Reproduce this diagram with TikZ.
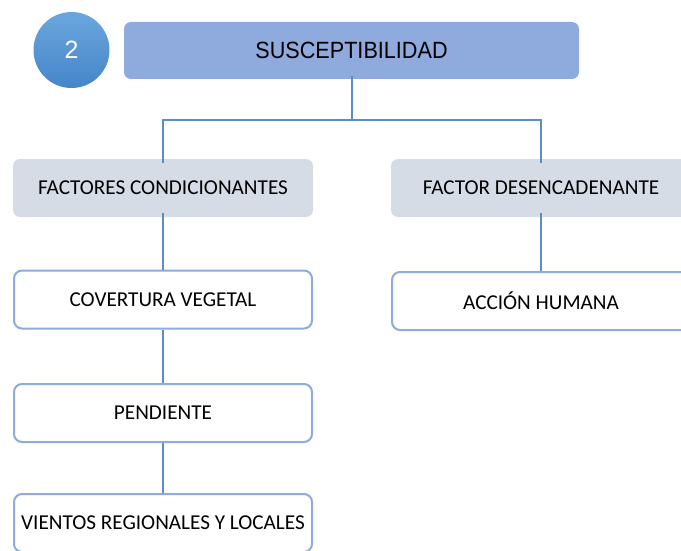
\documentclass[tikz,border=0pt]{standalone}
\usepackage{fontspec}
\setmainfont{Carlito}
\newfontfamily\titlefont[FakeStretch=0.92]{Liberation Sans}
\newfontfamily\numfont{Liberation Sans}
\definecolor{titlefill}{HTML}{8FAADC}
\definecolor{catfill}{HTML}{D6DCE5}
\definecolor{boxline}{HTML}{8FAADC}
\definecolor{conn}{HTML}{5B8DC7}
\definecolor{circtop}{HTML}{6BA6DE}
\definecolor{circbot}{HTML}{4585C8}
\tikzset{
  title/.style={fill=titlefill, rounded corners=7pt, minimum width=455pt, minimum height=57pt,
    font=\titlefont\fontsize{23.5}{26}\selectfont, text=black, inner sep=0pt},
  catbox/.style={fill=catfill, rounded corners=7pt, minimum width=300pt, minimum height=58pt,
    font=\fontsize{21.2}{24}\selectfont, inner sep=0pt},
  itembox/.style={draw=boxline, line width=2pt, fill=white, rounded corners=8pt, minimum width=298pt,
    minimum height=58pt, font=\fontsize{21.2}{24}\selectfont, inner sep=0pt},
  conn/.style={draw=conn, line width=2pt},
}
\begin{document}
\begin{tikzpicture}[x=1pt,y=-1pt]
\useasboundingbox (0,0) rectangle (681,551);
\clip (0,0) rectangle (681,551);
\node[circle, minimum size=76pt, inner sep=0pt, top color=circtop, bottom color=circbot,
  font=\numfont\fontsize{25}{28}\selectfont, text=white] (num) at (71.5,50) {2};
\node[title] (t) at (351.5,50.5) {SUSCEPTIBILIDAD};
\node[catbox] (fc) at (163,188) {FACTORES CONDICIONANTES};
\node[catbox] (fd) at (541,188) {FACTOR DESENCADENANTE};
\node[itembox] (cv) at (163,299.5) {COVERTURA VEGETAL};
\node[itembox] (pe) at (163,413) {PENDIENTE};
\node[itembox] (vi) at (163,523) {VIENTOS REGIONALES Y LOCALES};
\node[itembox] (ah) at (541,301) {ACCIÓN HUMANA};
\coordinate (j) at (351.5,120);
\draw[conn] ([yshift=3pt]t.south) -- (j);
\draw[conn] (j) -| ([yshift=-4pt]fc.north);
\draw[conn] (j) -| ([yshift=-4pt]fd.north);
\draw[conn] ([yshift=4pt]fc.south) -- (cv.north);
\draw[conn] ([yshift=4pt]fd.south) -- (ah.north);
\draw[conn] (cv.south) -- (pe.north);
\draw[conn] (pe.south) -- (vi.north);
\end{tikzpicture}
\end{document}
